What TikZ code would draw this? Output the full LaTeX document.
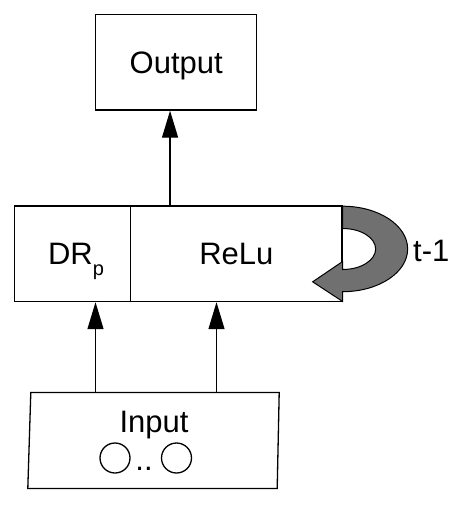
\documentclass[tikz,border=0pt]{standalone}
\usepackage{fontspec}
\setmainfont{Liberation Sans}
\usetikzlibrary{arrows.meta,calc}
\definecolor{loopgray}{RGB}{112,112,112}
\begin{document}
\begin{tikzpicture}[x=1pt,y=1pt,
  every node/.style={font=\fontsize{31}{37}\selectfont, text depth=0pt},
  box/.style={draw, line width=1.3pt, inner sep=0pt},
  arr/.style={line width=1.3pt, -{Triangle[length=27pt,width=16pt]}}]
\useasboundingbox (0,0) rectangle (459,-514);

% boxes
\node[box, minimum width=161pt, minimum height=95.3pt] (out) at (176.2,-62.4) {Output};
\node[box, minimum width=116pt, minimum height=95.5pt] (dr) at (72.7,-253.8) {};
\node[box, minimum width=211.3pt, minimum height=95.5pt] (relu) at (236.35,-253.8) {ReLu};
\node (drtext) at (76,-253.8) {DR\raisebox{-11pt}{\fontsize{20}{20}\selectfont p}};

% input block (slightly slanted outline)
\node[inner sep=0pt, minimum width=248pt, minimum height=95.5pt] (inp) at (153.5,-440.5) {};
\draw[line width=1.3pt] ([xshift=1.5pt]inp.north west) -- ([xshift=1.5pt]inp.north east)
  -- ([xshift=-0.5pt]inp.south east) -- ([xshift=-1.5pt]inp.south west) -- cycle;
\node (intext) at (154,-422) {Input};
\node[draw, circle, line width=1.3pt, minimum size=30pt, inner sep=0pt] (c1) at (115,-458) {};
\node[draw, circle, line width=1.3pt, minimum size=30pt, inner sep=0pt] (c2) at (176.5,-458) {};
\node[anchor=base, inner sep=0pt] (dots) at (144,-470) {..};

% connectors
\draw[arr] ([xshift=40pt]relu.north west) -- ([xshift=40pt]relu.north west |- out.south);
\draw[arr] ([xshift=66.2pt]inp.north west) -- ([xshift=66.2pt]inp.north west |- dr.south);
\draw[arr] ([xshift=187.2pt]inp.north west) -- ([xshift=187.2pt]inp.north west |- relu.south);

% recurrent loop arrow
\draw[fill=loopgray, line width=1pt, line join=miter]
  ([yshift=-0.8pt]relu.north east) arc[start angle=90, end angle=-90, x radius=65, y radius=42.75]
  -- ++(0,-9.8) -- ++(-30,19.7) -- ++(30,20.3) -- ++(0,-8)
  arc[start angle=-90, end angle=90, x radius=33, y radius=20.5] -- cycle;
\node[anchor=west, inner sep=0pt] (tl) at (413,-250.5) {t-1};
\end{tikzpicture}
\end{document}
